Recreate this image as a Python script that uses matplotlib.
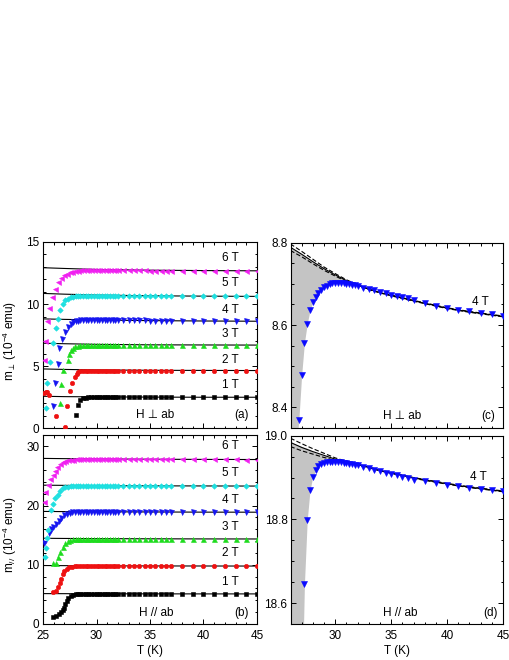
import matplotlib
matplotlib.use("Agg")
import matplotlib.pyplot as plt
from matplotlib.ticker import MultipleLocator, ScalarFormatter

plt.rcParams['font.family'] = ['Liberation Sans', 'DejaVu Sans']
plt.rcParams['mathtext.fontset'] = 'custom'
plt.rcParams['mathtext.rm'] = 'Liberation Sans'
plt.rcParams['mathtext.it'] = 'Liberation Sans:italic'
plt.rcParams['mathtext.fallback'] = 'stixsans'

# ---------------- data ----------------
FIELDS = ["1 T", "2 T", "3 T", "4 T", "5 T", "6 T"]
COLORS = ["#000000", "#ee1111", "#1edc1e", "#1515f0", "#1ee0e0", "#f020f0"]
MARKERS = ["s", "o", "^", "v", "D", "<"]
MSIZES = [2.8, 3.2, 3.6, 3.6, 2.8, 3.6]

# common plateau temperature grid (K)
T_PLAT = [28.5, 28.75, 29.0, 29.25, 29.5, 29.75, 30.0, 30.25, 30.5, 30.75, 31.0, 31.25, 31.5, 31.75, 32.0,
          32.5, 33.0, 33.5, 34.0, 34.5, 35.0, 35.5, 36.0, 36.5,
          37, 38, 39, 40, 41, 42, 43, 44, 45]

# ---- panel (a): H perp ab, transition points ----
A_T_LOW = [
    [28.05, 28.3],
    [25.1, 25.25, 25.4, 25.55, 26.2, 27.1, 27.25, 27.5, 27.75, 27.95, 28.15, 28.3],
    [26.6, 26.7, 26.9, 27.3, 27.45, 27.6, 27.8, 28.0, 28.25],
    [25.9, 26.1, 26.4, 26.5, 26.8, 27.1, 27.35, 27.6, 27.85, 28.1, 28.3],
    [25.28, 25.4, 25.7, 25.9, 26.2, 26.4, 26.6, 26.85, 27.1, 27.35, 27.6, 27.85, 28.1, 28.3],
    [25.05, 25.15, 25.4, 25.6, 25.83, 26.08, 26.4, 26.7, 27.0, 27.25, 27.5, 27.75, 28.0, 28.25],
]
A_M_LOW = [
    [1.10, 1.85],
    [2.85, 2.95, 2.90, 2.70, 1.00, 0.08, 1.80, 3.00, 3.67, 4.15, 4.40, 4.55],
    [2.06, 3.55, 4.70, 5.50, 5.95, 6.30, 6.50, 6.60, 6.66],
    [1.80, 3.67, 5.17, 6.43, 7.20, 7.75, 8.15, 8.40, 8.52, 8.60, 8.65],
    [1.60, 3.67, 5.30, 6.83, 8.05, 8.80, 9.50, 10.00, 10.30, 10.45, 10.55, 10.60, 10.63, 10.65],
    [5.50, 7.00, 8.60, 9.65, 10.58, 11.25, 11.80, 12.10, 12.32, 12.45, 12.55, 12.62, 12.66, 12.69],
]
A_M_PLAT = [
    [2.30, 2.42, 2.47, 2.49, 2.50, 2.50, 2.50, 2.50, 2.50, 2.50, 2.50, 2.50, 2.50, 2.50, 2.50,
     2.50, 2.50, 2.50, 2.50, 2.50, 2.50, 2.50, 2.50, 2.50,
     2.50, 2.50, 2.50, 2.50, 2.49, 2.49, 2.49, 2.49, 2.49],
    [4.58, 4.61, 4.63, 4.64, 4.65, 4.65, 4.65, 4.65, 4.65, 4.65, 4.65, 4.65, 4.65, 4.65, 4.65,
     4.65, 4.65, 4.65, 4.65, 4.65, 4.65, 4.65, 4.64, 4.64,
     4.64, 4.64, 4.64, 4.64, 4.64, 4.64, 4.64, 4.64, 4.64],
    [6.68, 6.70, 6.71, 6.72, 6.72, 6.72, 6.72, 6.72, 6.72, 6.72, 6.72, 6.72, 6.72, 6.72, 6.72,
     6.72, 6.72, 6.72, 6.72, 6.71, 6.71, 6.71, 6.71, 6.71,
     6.71, 6.71, 6.71, 6.70, 6.70, 6.70, 6.70, 6.70, 6.70],
    [8.68, 8.69, 8.70, 8.70, 8.70, 8.70, 8.70, 8.70, 8.70, 8.70, 8.70, 8.70, 8.70, 8.69, 8.69,
     8.69, 8.69, 8.68, 8.68, 8.68, 8.67, 8.67, 8.67, 8.67,
     8.66, 8.65, 8.65, 8.64, 8.64, 8.63, 8.63, 8.63, 8.62],
    [10.67, 10.68, 10.69, 10.69, 10.69, 10.69, 10.69, 10.69, 10.69, 10.69, 10.69, 10.68, 10.68, 10.68, 10.68,
     10.68, 10.67, 10.67, 10.67, 10.66, 10.66, 10.66, 10.65, 10.65,
     10.65, 10.64, 10.64, 10.63, 10.63, 10.63, 10.62, 10.62, 10.62],
    [12.71, 12.72, 12.72, 12.73, 12.73, 12.73, 12.73, 12.73, 12.73, 12.73, 12.72, 12.72, 12.72, 12.72, 12.72,
     12.72, 12.71, 12.71, 12.71, 12.71, 12.70, 12.70, 12.70, 12.70,
     12.70, 12.69, 12.69, 12.69, 12.69, 12.68, 12.68, 12.68, 12.68],
]
T_FITLINE = [25, 27, 30, 35, 40, 45]
A_FIT = [
    [2.58, 2.55, 2.53, 2.51, 2.50, 2.50],
    [4.78, 4.74, 4.70, 4.67, 4.66, 4.65],
    [6.85, 6.81, 6.76, 6.72, 6.71, 6.70],
    [8.81, 8.77, 8.72, 8.67, 8.64, 8.62],
    [10.86, 10.80, 10.73, 10.67, 10.64, 10.62],
    [12.93, 12.87, 12.79, 12.73, 12.70, 12.68],
]

# ---- panel (b): H // ab ----
B_T_LOW = [
    [25.98, 26.23, 26.45, 26.66, 26.85, 26.97, 27.1, 27.22, 27.38, 27.6, 27.84, 28.1, 28.3],
    [25.95, 26.2, 26.4, 26.55, 26.7, 26.85, 27.0, 27.2, 27.45, 27.7, 27.95, 28.2],
    [25.95, 26.2, 26.4, 26.6, 26.85, 27.05, 27.3, 27.55, 27.8, 28.05, 28.3],
    [25.1, 25.55, 25.75, 25.95, 26.25, 26.45, 26.7, 27.0, 27.25, 27.5, 27.75, 28.0, 28.25],
    [25.2, 25.3, 25.35, 25.5, 25.75, 25.98, 26.14, 26.36, 26.6, 26.85, 27.1, 27.35, 27.6, 27.85, 28.1, 28.3],
    [25.05, 25.2, 25.45, 25.7, 25.95, 26.15, 26.35, 26.6, 26.85, 27.1, 27.35, 27.6, 27.85, 28.1, 28.3],
]
B_M_LOW = [
    [1.15, 1.40, 1.65, 1.95, 2.30, 2.70, 3.35, 3.90, 4.35, 4.72, 4.95, 5.04, 5.07],
    [5.40, 5.60, 6.20, 6.90, 7.60, 8.40, 8.90, 9.30, 9.55, 9.68, 9.75, 9.78],
    [10.30, 10.35, 11.30, 12.20, 13.00, 13.60, 14.00, 14.20, 14.30, 14.35, 14.37],
    [13.60, 15.40, 16.00, 16.40, 16.80, 17.40, 17.90, 18.35, 18.60, 18.75, 18.85, 18.90, 18.92],
    [11.35, 12.90, 14.45, 15.90, 19.30, 20.30, 21.20, 21.80, 22.50, 22.90, 23.10, 23.20, 23.25, 23.28, 23.30, 23.30],
    [20.60, 22.30, 23.50, 24.50, 25.20, 25.90, 26.50, 26.95, 27.30, 27.50, 27.62, 27.70, 27.75, 27.78, 27.80],
]
B_M_PLAT = [
    [5.08, 5.08, 5.08, 5.08, 5.08, 5.08, 5.08, 5.08, 5.08, 5.08, 5.08, 5.08, 5.08, 5.08, 5.08,
     5.08, 5.08, 5.08, 5.08, 5.08, 5.08, 5.08, 5.08, 5.08,
     5.08, 5.08, 5.08, 5.08, 5.08, 5.08, 5.08, 5.08, 5.08],
    [9.79, 9.80, 9.80, 9.80, 9.80, 9.80, 9.80, 9.80, 9.80, 9.80, 9.80, 9.80, 9.80, 9.80, 9.80,
     9.80, 9.80, 9.80, 9.80, 9.79, 9.79, 9.79, 9.79, 9.79,
     9.79, 9.79, 9.79, 9.79, 9.78, 9.78, 9.78, 9.78, 9.78],
    [14.38, 14.38, 14.38, 14.38, 14.38, 14.38, 14.38, 14.38, 14.38, 14.38, 14.38, 14.38, 14.38, 14.38, 14.38,
     14.38, 14.37, 14.37, 14.37, 14.37, 14.37, 14.37, 14.36, 14.36,
     14.36, 14.36, 14.36, 14.36, 14.36, 14.35, 14.35, 14.35, 14.35],
    [18.93, 18.93, 18.94, 18.94, 18.94, 18.94, 18.94, 18.94, 18.94, 18.94, 18.94, 18.93, 18.93, 18.93, 18.93,
     18.93, 18.92, 18.92, 18.92, 18.91, 18.91, 18.91, 18.90, 18.90,
     18.90, 18.89, 18.89, 18.88, 18.88, 18.88, 18.87, 18.87, 18.87],
    [23.31, 23.31, 23.32, 23.32, 23.32, 23.32, 23.32, 23.32, 23.32, 23.32, 23.32, 23.32, 23.32, 23.32, 23.31,
     23.31, 23.31, 23.31, 23.31, 23.30, 23.30, 23.30, 23.30, 23.30,
     23.30, 23.29, 23.29, 23.29, 23.29, 23.28, 23.28, 23.28, 23.28],
    [27.81, 27.82, 27.82, 27.82, 27.82, 27.82, 27.82, 27.82, 27.82, 27.82, 27.81, 27.81, 27.81, 27.81, 27.81,
     27.81, 27.80, 27.80, 27.80, 27.80, 27.79, 27.79, 27.79, 27.79,
     27.78, 27.78, 27.78, 27.78, 27.77, 27.77, 27.77, 27.76, 27.76],
]
B_FIT = [
    [5.13, 5.12, 5.10, 5.09, 5.08, 5.08],
    [9.87, 9.85, 9.82, 9.80, 9.79, 9.78],
    [14.47, 14.44, 14.41, 14.38, 14.36, 14.35],
    [19.00, 18.97, 18.94, 18.91, 18.88, 18.87],
    [23.43, 23.40, 23.36, 23.32, 23.30, 23.28],
    [27.95, 27.91, 27.86, 27.81, 27.78, 27.76],
]

# ---- panel (c): 4 T, H perp ab (zoom) ----
C_T = [26.75, 27.0, 27.25, 27.5, 27.75, 28.0, 28.25, 28.5, 28.75, 29.0, 29.25, 29.5, 29.75, 30.0, 30.25,
       30.5, 30.75, 31.0, 31.25, 31.5, 31.75, 32.0,
       32.5, 33.0, 33.5, 34.0, 34.5, 35.0, 35.5, 36.0, 36.5,
       37, 38, 39, 40, 41, 42, 43, 44, 45]
C_M = [8.369, 8.478, 8.557, 8.603, 8.636, 8.655, 8.668, 8.678, 8.686, 8.692, 8.696, 8.699, 8.701, 8.702, 8.702,
       8.702, 8.701, 8.700, 8.699, 8.698, 8.697, 8.695,
       8.691, 8.687, 8.684, 8.680, 8.677, 8.674, 8.671, 8.668, 8.665,
       8.660, 8.653, 8.647, 8.642, 8.637, 8.633, 8.629, 8.626, 8.622]
T_FIT = [26.0, 27, 28, 29, 30, 31, 32, 33, 34, 35, 37, 40, 42, 45]
C_FIT = [8.789, 8.772, 8.754, 8.737, 8.722, 8.708, 8.697, 8.687, 8.679, 8.672, 8.659, 8.641, 8.632, 8.621]
C_FIT_HI = [8.797, 8.779, 8.760, 8.741, 8.725, 8.710, 8.698, 8.688, 8.680, 8.673, 8.660, 8.642, 8.633, 8.622]
C_FIT_LO = [8.781, 8.766, 8.749, 8.733, 8.719, 8.706, 8.696, 8.686, 8.678, 8.671, 8.658, 8.640, 8.631, 8.620]
SH_C_T = [26.0, 26.62, 26.75, 27.0, 27.25, 27.5, 27.75, 28.0, 28.5, 29.0, 29.5, 30.0, 30.5, 31.0, 31.5, 32.0]
SH_C_LO = [8.30, 8.33, 8.369, 8.478, 8.557, 8.603, 8.636, 8.655, 8.678, 8.692, 8.699, 8.702, 8.702, 8.700, 8.698, 8.695]
SH_C_HI = [8.789, 8.778, 8.776, 8.772, 8.767, 8.763, 8.758, 8.754, 8.745, 8.737, 8.729, 8.722, 8.715, 8.708, 8.702, 8.697]

# ---- panel (d): 4 T, H // ab (zoom) ----
D_T = [27.25, 27.5, 27.75, 28.0, 28.25, 28.5, 28.75, 29.0, 29.25, 29.5, 29.75, 30.0, 30.25, 30.5, 30.75,
       31.0, 31.25, 31.5, 31.75, 32.0,
       32.5, 33.0, 33.5, 34.0, 34.5, 35.0, 35.5, 36.0, 36.5,
       37, 38, 39, 40, 41, 42, 43, 44, 45]
D_M = [18.645, 18.798, 18.870, 18.902, 18.919, 18.928, 18.933, 18.935, 18.936, 18.937, 18.937, 18.937, 18.937, 18.936, 18.935,
       18.934, 18.933, 18.932, 18.930, 18.929,
       18.926, 18.923, 18.919, 18.915, 18.912, 18.908, 18.905, 18.902, 18.899,
       18.895, 18.891, 18.887, 18.883, 18.880, 18.876, 18.873, 18.870, 18.867]
D_FIT = [18.984, 18.972, 18.962, 18.953, 18.944, 18.937, 18.931, 18.924, 18.917, 18.911, 18.899, 18.885, 18.877, 18.867]
D_FIT_HI = [18.994, 18.981, 18.969, 18.958, 18.947, 18.939, 18.932, 18.925, 18.918, 18.912, 18.900, 18.886, 18.878, 18.868]
D_FIT_LO = [18.974, 18.964, 18.956, 18.948, 18.941, 18.935, 18.930, 18.923, 18.916, 18.910, 18.898, 18.884, 18.876, 18.866]
SH_D_T = [26.0, 27.15, 27.25, 27.5, 27.75, 28.0, 28.5, 29.0, 29.5, 30.0, 30.5, 31.0, 31.5]
SH_D_LO = [18.50, 18.52, 18.645, 18.798, 18.870, 18.902, 18.928, 18.935, 18.937, 18.937, 18.937, 18.935, 18.933]
SH_D_HI = [18.984, 18.973, 18.972, 18.970, 18.967, 18.962, 18.957, 18.953, 18.948, 18.944, 18.940, 18.937, 18.934]

# ---------------- figure ----------------
W, H = 510, 660
fig = plt.figure(figsize=(W / 100, H / 100), dpi=100)

def frac(x0, y0, x1, y1):
    return [x0 / W, 1 - y1 / H, (x1 - x0) / W, (y1 - y0) / H]

ax_a = fig.add_axes(frac(43, 242, 257, 428.3))
ax_b = fig.add_axes(frac(43, 435, 257, 624))
ax_c = fig.add_axes(frac(291, 242.7, 503, 428))
ax_d = fig.add_axes(frac(291, 435.7, 503, 624))

FS = 8.5

def style(ax, ymaj, ymin):
    ax.xaxis.set_major_locator(MultipleLocator(5))
    ax.xaxis.set_minor_locator(MultipleLocator(1))
    ax.yaxis.set_major_locator(MultipleLocator(ymaj))
    ax.yaxis.set_minor_locator(MultipleLocator(ymin))
    ax.tick_params(which='both', direction='in', top=True, right=True, labelsize=FS, width=0.7)
    ax.tick_params(which='major', length=3.5)
    ax.tick_params(axis='y', which='major', pad=2.5)
    ax.tick_params(axis='x', which='major', pad=4.5)
    ax.tick_params(which='minor', length=1.8)
    for s in ax.spines.values():
        s.set_linewidth(0.8)

LINE_KW = dict(color='black', lw=0.8, zorder=2)

# (a)
for i in range(6):
    ax_a.plot(T_FITLINE, A_FIT[i], **LINE_KW)
    ax_a.plot(A_T_LOW[i] + T_PLAT, A_M_LOW[i] + A_M_PLAT[i], ls='none', marker=MARKERS[i],
              ms=MSIZES[i], color=COLORS[i], mec=COLORS[i], mew=0.4, zorder=3)
ax_a.set_xlim(25, 45)
ax_a.set_ylim(0, 15)
style(ax_a, 5, 1)
ax_a.tick_params(labelbottom=False)
ax_a.set_ylabel(r'm$_{\perp}$ (10$^{-4}$ emu)', fontsize=FS)
ax_a.yaxis.set_label_coords(-0.112, 0.47)
A_LABEL_Y = [0.231, 0.369, 0.505, 0.634, 0.778, 0.912]
for i in range(6):
    ax_a.text(0.875, A_LABEL_Y[i], FIELDS[i], transform=ax_a.transAxes, ha='center', va='center', fontsize=FS)
ax_a.text(0.523, 0.07, 'H ⊥ ab', transform=ax_a.transAxes, ha='center', va='center', fontsize=FS)
ax_a.text(0.928, 0.07, '(a)', transform=ax_a.transAxes, ha='center', va='center', fontsize=FS)

# (b)
for i in range(6):
    ax_b.plot(T_FITLINE, B_FIT[i], **LINE_KW)
    ax_b.plot(B_T_LOW[i] + T_PLAT, B_M_LOW[i] + B_M_PLAT[i], ls='none', marker=MARKERS[i],
              ms=MSIZES[i], color=COLORS[i], mec=COLORS[i], mew=0.4, zorder=3)
ax_b.set_xlim(25, 45)
ax_b.set_ylim(0, 31.9)
style(ax_b, 10, 2)
ax_b.set_ylabel(r'm$_{//}$ (10$^{-4}$ emu)', fontsize=FS)
ax_b.yaxis.set_label_coords(-0.112, 0.47)
ax_b.set_xlabel('T (K)', fontsize=FS, labelpad=2)
B_LABEL_Y = [0.224, 0.374, 0.515, 0.656, 0.80, 0.942]
for i in range(6):
    ax_b.text(0.875, B_LABEL_Y[i], FIELDS[i], transform=ax_b.transAxes, ha='center', va='center', fontsize=FS)
ax_b.text(0.527, 0.06, 'H // ab', transform=ax_b.transAxes, ha='center', va='center', fontsize=FS)
ax_b.text(0.928, 0.06, '(b)', transform=ax_b.transAxes, ha='center', va='center', fontsize=FS)

# (c)
ax_c.fill_between(SH_C_T, SH_C_LO, SH_C_HI, color='#c4c4c4', lw=0, zorder=1)
ax_c.plot(T_FIT, C_FIT, color='black', lw=0.8, zorder=2)
ax_c.plot(T_FIT, C_FIT_HI, color='black', lw=0.8, ls=(0, (4, 2)), zorder=2)
ax_c.plot(T_FIT, C_FIT_LO, color='black', lw=0.8, ls=(0, (4, 2)), zorder=2)
ax_c.plot(C_T, C_M, ls='none', marker='v', ms=4, color='#0a0aff', mec='#0a0aff', mew=0.4, zorder=3)
ax_c.set_xlim(26.05, 45)
ax_c.set_ylim(8.35, 8.8)
style(ax_c, 0.2, 0.05)
ax_c.tick_params(labelbottom=False)
ax_c.yaxis.set_major_formatter(ScalarFormatter(useOffset=False))
ax_c.text(0.892, 0.682, '4 T', transform=ax_c.transAxes, ha='center', va='center', fontsize=FS)
ax_c.text(0.522, 0.065, 'H ⊥ ab', transform=ax_c.transAxes, ha='center', va='center', fontsize=FS)
ax_c.text(0.93, 0.065, '(c)', transform=ax_c.transAxes, ha='center', va='center', fontsize=FS)

# (d)
ax_d.fill_between(SH_D_T, SH_D_LO, SH_D_HI, color='#c4c4c4', lw=0, zorder=1)
ax_d.plot(T_FIT, D_FIT, color='black', lw=0.8, zorder=2)
ax_d.plot(T_FIT, D_FIT_HI, color='black', lw=0.8, ls=(0, (4, 2)), zorder=2)
ax_d.plot(T_FIT, D_FIT_LO, color='black', lw=0.8, ls=(0, (4, 2)), zorder=2)
ax_d.plot(D_T, D_M, ls='none', marker='v', ms=4, color='#0a0aff', mec='#0a0aff', mew=0.4, zorder=3)
ax_d.set_xlim(26.05, 45)
ax_d.set_ylim(18.55, 19.0)
style(ax_d, 0.2, 0.05)
ax_d.yaxis.set_major_formatter(ScalarFormatter(useOffset=False))
ax_d.set_xlabel('T (K)', fontsize=FS, labelpad=2)
ax_d.text(0.884, 0.779, '4 T', transform=ax_d.transAxes, ha='center', va='center', fontsize=FS)
ax_d.text(0.514, 0.06, 'H // ab', transform=ax_d.transAxes, ha='center', va='center', fontsize=FS)
ax_d.text(0.939, 0.06, '(d)', transform=ax_d.transAxes, ha='center', va='center', fontsize=FS)

fig.savefig('out.png', dpi=100)
